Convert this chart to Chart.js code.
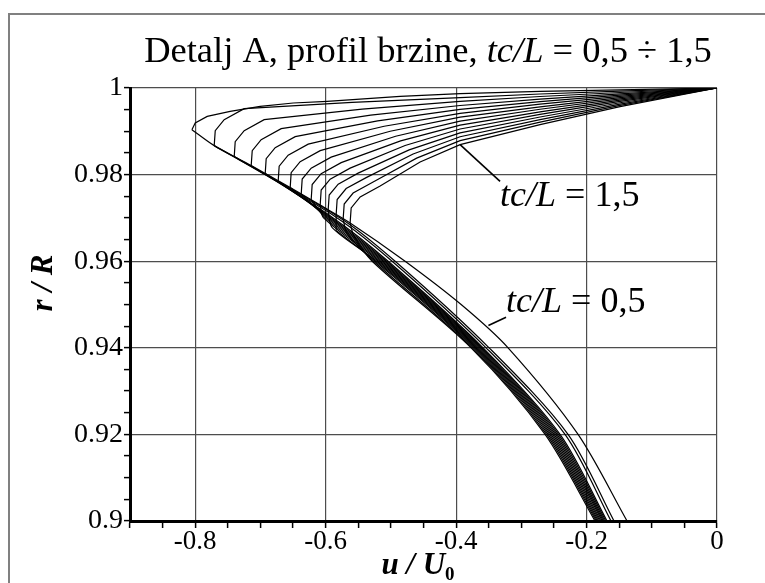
<!DOCTYPE html>
<html>
<head>
<meta charset="utf-8">
<script src="https://cdn.jsdelivr.net/npm/chart.js"></script>
<style>
  body { margin: 0; background: #fff; }
  canvas { display: block; }
</style>
</head>
<body>
<canvas id="myChart" width="765" height="583"></canvas>
<script>
// velocity profiles near the wall, [u/U0, r/R] pairs, from r/R = 0.9 up to the wall
const tc050 = [[-0.1379,0.90],[-0.2130,0.92],[-0.3203,0.94],[-0.3923,0.95],[-0.4782,0.96],[-0.5625,0.96885],[-0.6084,0.97296],[-0.6544,0.97700],[-0.7142,0.98207],[-0.7709,0.98669],[-0.8051,0.99038],[-0.8000,0.99192],[-0.7816,0.99345],[-0.7464,0.99460],[-0.7004,0.99575],[-0.6498,0.99654],[-0.5977,0.99691],[-0.4858,0.99806],[-0.3939,0.99868],[-0.2713,0.99922],[-0.1487,0.99956],[0,1]];
const tc058 = [[-0.1579,0.90],[-0.2284,0.92],[-0.3494,0.94],[-0.4935,0.96],[-0.5778,0.97],[-0.7709,0.98669],[-0.7693,0.99015],[-0.7556,0.99269],[-0.7249,0.99522],[-0.5594,0.99670],[-0.3939,0.99778],[-0.2713,0.99862],[-0.1487,0.99926],[0,1]];
const tc065 = [[-0.1625,0.90],[-0.2330,0.92],[-0.3540,0.94],[-0.4981,0.96],[-0.5824,0.97],[-0.7402,0.98415],[-0.7387,0.98761],[-0.7249,0.99015],[-0.6943,0.99269],[-0.5441,0.99513],[-0.3939,0.99689],[-0.2713,0.99804],[-0.1487,0.99896],[0,1]];
const tc073 = [[-0.1686,0.90],[-0.2406,0.92],[-0.3586,0.94],[-0.5042,0.96],[-0.5885,0.97],[-0.7142,0.98207],[-0.7126,0.98553],[-0.6989,0.98807],[-0.6682,0.99061],[-0.5310,0.99372],[-0.3939,0.99596],[-0.2713,0.99744],[-0.1487,0.99866],[0,1]];
const tc081 = [[-0.1704,0.90],[-0.2429,0.92],[-0.3605,0.94],[-0.5067,0.96],[-0.5910,0.97],[-0.6927,0.98023],[-0.6912,0.98369],[-0.6774,0.98623],[-0.6467,0.98876],[-0.5203,0.99241],[-0.3939,0.99506],[-0.2713,0.99686],[-0.1487,0.99836],[0,1]];
const tc088 = [[-0.1723,0.90],[-0.2452,0.92],[-0.3623,0.94],[-0.5091,0.96],[-0.5934,0.97],[-0.6728,0.97850],[-0.6713,0.98196],[-0.6575,0.98449],[-0.6268,0.98703],[-0.5103,0.99116],[-0.3939,0.99416],[-0.2713,0.99626],[-0.1487,0.99806],[0,1]];
const tc096 = [[-0.1741,0.90],[-0.2475,0.92],[-0.3641,0.94],[-0.5116,0.96],[-0.5959,0.97],[-0.6544,0.97700],[-0.6529,0.98046],[-0.6391,0.98300],[-0.6084,0.98553],[-0.5011,0.99001],[-0.3939,0.99326],[-0.2713,0.99566],[-0.1487,0.99776],[0,1]];
const tc104 = [[-0.1759,0.90],[-0.2498,0.92],[-0.3660,0.94],[-0.5140,0.96],[-0.5983,0.97],[-0.6375,0.97550],[-0.6360,0.97896],[-0.6222,0.98150],[-0.5916,0.98403],[-0.4927,0.98886],[-0.3939,0.99236],[-0.2713,0.99509],[-0.1487,0.99749],[0,1]];
const tc112 = [[-0.1778,0.90],[-0.2521,0.92],[-0.3678,0.94],[-0.5165,0.96],[-0.6008,0.97],[-0.6222,0.97423],[-0.6207,0.97769],[-0.6069,0.98023],[-0.5762,0.98276],[-0.4851,0.98779],[-0.3939,0.99144],[-0.2713,0.99449],[-0.1487,0.99719],[0,1]];
const tc119 = [[-0.1796,0.90],[-0.2544,0.92],[-0.3697,0.94],[-0.5189,0.96],[-0.6032,0.97],[-0.6084,0.97296],[-0.6069,0.97642],[-0.5931,0.97896],[-0.5625,0.98150],[-0.4782,0.98673],[-0.3939,0.99054],[-0.2713,0.99391],[-0.1487,0.99689],[0,1]];
const tc127 = [[-0.1815,0.90],[-0.2567,0.92],[-0.3715,0.94],[-0.5214,0.96],[-0.5900,0.96777],[-0.5962,0.97180],[-0.5946,0.97527],[-0.5808,0.97780],[-0.5502,0.98034],[-0.4720,0.98572],[-0.3939,0.98964],[-0.2713,0.99331],[-0.1487,0.99659],[0,1]];
const tc135 = [[-0.1833,0.90],[-0.2590,0.92],[-0.3733,0.94],[-0.5238,0.96],[-0.5839,0.96707],[-0.5839,0.97077],[-0.5824,0.97423],[-0.5686,0.97677],[-0.5379,0.97930],[-0.4659,0.98477],[-0.3939,0.98874],[-0.2713,0.99271],[-0.1487,0.99629],[0,1]];
const tc142 = [[-0.1851,0.90],[-0.2613,0.92],[-0.3752,0.94],[-0.5263,0.96],[-0.5670,0.96638],[-0.5732,0.96973],[-0.5716,0.97319],[-0.5579,0.97573],[-0.5272,0.97827],[-0.4605,0.98380],[-0.3939,0.98784],[-0.2713,0.99213],[-0.1487,0.99599],[0,1]];
const tc150 = [[-0.1870,0.90],[-0.2636,0.92],[-0.3770,0.94],[-0.5287,0.96],[-0.5563,0.96569],[-0.5625,0.96885],[-0.5609,0.97231],[-0.5471,0.97485],[-0.5165,0.97739],[-0.4552,0.98290],[-0.3939,0.98692],[-0.2713,0.99153],[-0.1487,0.99569],[0,1]];

const curves = [tc050, tc058, tc065, tc073, tc081, tc088, tc096, tc104, tc112, tc119, tc127, tc135, tc142, tc150];
const curveNames = ['0,50','0,58','0,65','0,73','0,81','0,88','0,96','1,04','1,12','1,19','1,27','1,35','1,42','1,50'];

const xTickLabels = ['-0.8', '-0.6', '-0.4', '-0.2', '0'];
const yTickLabels = ['0.9', '0.92', '0.94', '0.96', '0.98', '1'];

// labels with leader lines: leader from (u,r) to (u,r), text anchored at (u,r)
const callouts = [
  { value: '1,5', from: [-0.3939, 0.98692], to: [-0.3326, 0.97845], at: [-0.3326, 0.97268] },
  { value: '0,5', from: [-0.3505, 0.94515], to: [-0.3234, 0.94707], at: [-0.3234, 0.94832] }
];

const serif = '"Liberation Serif", "Times New Roman", serif';

function isMajor(v, step) {
  return Math.abs(Math.round(v / step) * step - v) < 1e-6;
}
function fmt(v) {
  let s = parseFloat(v.toFixed(3)).toString();
  return s === '-0' ? '0' : s;
}

// split every curve at its nose: smooth lower branch, sharp upper branch
const datasets = [];
curves.forEach((c, i) => {
  let nose = 0;
  c.forEach((p, j) => { if (p[0] < c[nose][0]) nose = j; });
  const pts = c.map(p => ({x: p[0], y: p[1]}));
  datasets.push({ label: 'tc/L = ' + curveNames[i], data: pts.slice(0, nose + 1), tension: 0.3 });
  datasets.push({ label: 'tc/L = ' + curveNames[i], data: pts.slice(nose), tension: 0 });
});
datasets.forEach(d => {
  d.showLine = true;
  d.borderColor = '#000';
  d.borderWidth = 1.2;
  d.pointRadius = 0;
  d.fill = false;
});

function drawParts(ctx, parts, x, y, center) {
  let total = 0;
  parts.forEach(p => { ctx.font = p[1]; total += ctx.measureText(p[0]).width; });
  let cx = center ? x - total / 2 : x;
  parts.forEach(p => {
    ctx.font = p[1];
    ctx.fillText(p[0], cx, y + (p[2] || 0));
    cx += ctx.measureText(p[0]).width;
  });
}

const textPlugin = {
  id: 'texts',
  afterDraw(chart) {
    const ctx = chart.ctx;
    const xs = chart.scales.x, ys = chart.scales.y;
    ctx.save();
    ctx.fillStyle = '#000';
    ctx.textBaseline = 'alphabetic';
    ctx.textAlign = 'left';

    // outer frame
    ctx.strokeStyle = '#808080';
    ctx.lineWidth = 2;
    ctx.strokeRect(9, 14, 800, 700);

    // title
    drawParts(ctx, [
      ['Detalj A, profil brzine, ', '36.5px ' + serif],
      ['tc/L', 'italic 36.5px ' + serif],
      [' = 0,5 \u00F7 1,5', '36.5px ' + serif]
    ], 428, 62, true);

    // axis titles
    drawParts(ctx, [
      ['u / U', 'italic bold 31px ' + serif],
      ['0', 'bold 19px ' + serif, 6]
    ], 418, 574, true);

    ctx.save();
    ctx.translate(52, 283);
    ctx.rotate(-Math.PI / 2);
    drawParts(ctx, [['r / R', 'italic bold 31px ' + serif]], 0, 0, true);
    ctx.restore();

    // callouts
    ctx.strokeStyle = '#000';
    ctx.lineWidth = 1.6;
    callouts.forEach(c => {
      ctx.beginPath();
      ctx.moveTo(xs.getPixelForValue(c.from[0]), ys.getPixelForValue(c.from[1]));
      ctx.lineTo(xs.getPixelForValue(c.to[0]), ys.getPixelForValue(c.to[1]));
      ctx.stroke();
      drawParts(ctx, [
        ['tc/L', 'italic 36px ' + serif],
        [' = ' + c.value, '36px ' + serif]
      ], xs.getPixelForValue(c.at[0]), ys.getPixelForValue(c.at[1]), false);
    });
    ctx.restore();
  }
};

const ctx = document.getElementById('myChart');
new Chart(ctx, {
  type: 'scatter',
  data: { datasets: datasets },
  plugins: [textPlugin],
  options: {
    responsive: false,
    animation: false,
    events: [],
    devicePixelRatio: 1,
    layout: { padding: { left: 0, top: 88, right: 48, bottom: 0 } },
    plugins: { legend: { display: false }, tooltip: { enabled: false } },
    scales: {
      x: {
        type: 'linear',
        min: -0.9,
        max: 0,
        afterFit: s => { s.height = 62; },
        border: { color: '#000', width: 3 },
        grid: {
          color: c => (c.tick && isMajor(c.tick.value, 0.2)) ? '#4d4d4d' : 'rgba(0,0,0,0)',
          lineWidth: 1.2,
          tickColor: '#000',
          tickLength: 7,
          tickWidth: 1.5
        },
        ticks: {
          stepSize: 0.05,
          autoSkip: false,
          maxRotation: 0,
          color: '#000',
          padding: -2,
          font: { family: serif, size: 27 },
          callback: v => {
            const s = fmt(v);
            return (isMajor(v, 0.2) && xTickLabels.includes(s)) ? s : '';
          }
        }
      },
      y: {
        type: 'linear',
        min: 0.9,
        max: 1,
        afterFit: s => { s.width = 130; },
        border: { color: '#000', width: 3 },
        grid: {
          color: c => (c.tick && isMajor(c.tick.value, 0.02)) ? '#4d4d4d' : 'rgba(0,0,0,0)',
          lineWidth: 1.2,
          tickColor: '#000',
          tickLength: 6,
          tickWidth: 1.5
        },
        ticks: {
          stepSize: 0.005,
          autoSkip: false,
          color: '#000',
          padding: 1,
          font: { family: serif, size: 28 },
          callback: v => {
            const s = fmt(v);
            return (isMajor(v, 0.02) && yTickLabels.includes(s)) ? s : '';
          }
        }
      }
    }
  }
});
</script>
</body>
</html>
